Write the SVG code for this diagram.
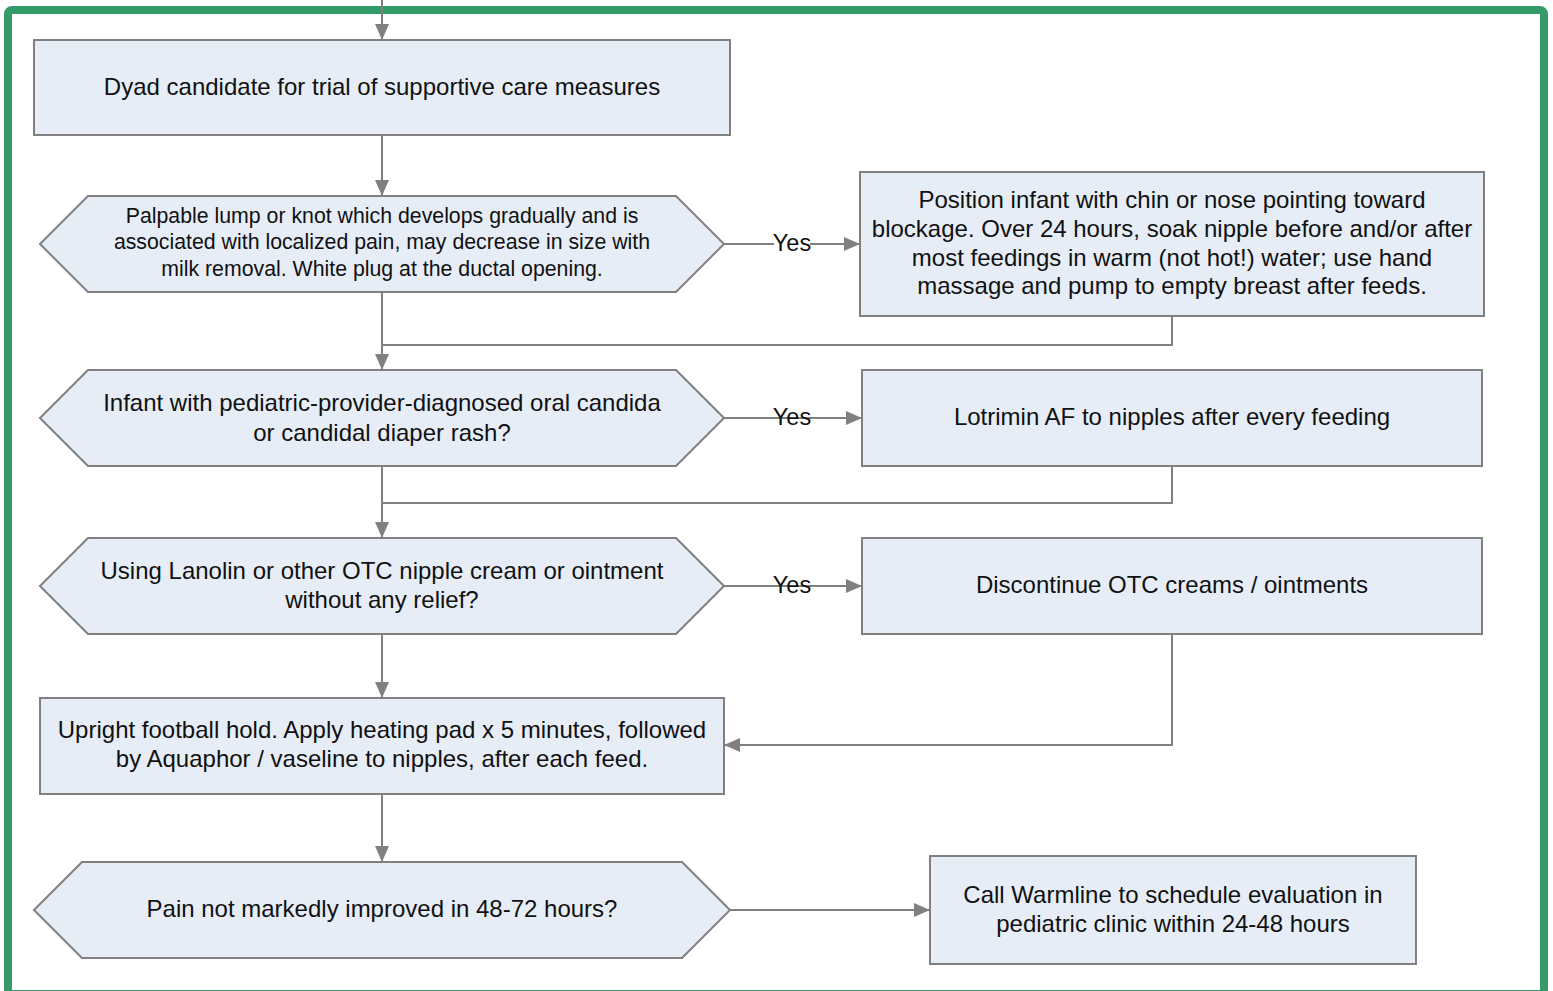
<svg xmlns="http://www.w3.org/2000/svg" width="1553" height="991" viewBox="0 0 1553 991">
  <style>
    .box { fill: #e6edf7; stroke: #808080; stroke-width: 2; }
    .txt { font-family: "Liberation Sans", Arial, sans-serif; font-size: 24px; fill: #111; text-anchor: middle; }
    .sm { font-size: 21.3px; }
    .lbl { font-family: "Liberation Sans", Arial, sans-serif; font-size: 23.5px; fill: #111; text-anchor: middle; }
    .wire { fill: none; stroke: #808080; stroke-width: 2; }
  </style>
  <defs>
    <marker id="arrow" viewBox="0 0 16 14" refX="16" refY="7" markerWidth="16" markerHeight="14" markerUnits="userSpaceOnUse" orient="auto">
      <path d="M0,0 L16,7 L0,14 Z" fill="#808080"/>
    </marker>
  </defs>
  <rect width="1553" height="991" fill="#ffffff"/>

  <!-- outer frame -->
  <rect x="8" y="10" width="1536" height="984" rx="4" fill="none" stroke="#349a68" stroke-width="8"/>

  <!-- connectors -->
  <g id="connectors">
    <path class="wire" d="M382,0 V40" marker-end="url(#arrow)"/>
    <path class="wire" d="M382,136 V196" marker-end="url(#arrow)"/>
    <path class="wire" d="M724,244 H860" marker-end="url(#arrow)"/>
    <path class="wire" d="M382,292 V370" marker-end="url(#arrow)"/>
    <path class="wire" d="M1172,316 V345 H382"/>
    <path class="wire" d="M724,418 H862" marker-end="url(#arrow)"/>
    <path class="wire" d="M382,466 V538" marker-end="url(#arrow)"/>
    <path class="wire" d="M1172,466 V503 H382"/>
    <path class="wire" d="M724,586 H862" marker-end="url(#arrow)"/>
    <path class="wire" d="M382,634 V698" marker-end="url(#arrow)"/>
    <path class="wire" d="M1172,634 V745 H724" marker-end="url(#arrow)"/>
    <path class="wire" d="M382,794 V862" marker-end="url(#arrow)"/>
    <path class="wire" d="M730,910 H930" marker-end="url(#arrow)"/>
    <rect x="774" y="232" width="36" height="22" fill="#ffffff"/>
    <text class="lbl" x="792" y="251">Yes</text>
    <text class="lbl" x="792" y="425">Yes</text>
    <text class="lbl" x="792" y="593">Yes</text>
  </g>

  <g id="start">
    <rect class="box" x="34" y="40" width="696" height="95"/>
    <text class="txt" x="382" y="95">Dyad candidate for trial of supportive care measures</text>
  </g>

  <g id="q-lump">
    <polygon class="box" points="40,244 88,196 676,196 724,244 676,292 88,292"/>
    <text class="txt sm" x="382" y="223">Palpable lump or knot which develops gradually and is</text>
    <text class="txt sm" x="382" y="249">associated with localized pain, may decrease in size with</text>
    <text class="txt sm" x="382" y="276">milk removal. White plug at the ductal opening.</text>
  </g>

  <g id="a-position">
    <rect class="box" x="860" y="172" width="624" height="144"/>
    <text class="txt" x="1172" y="208">Position infant with chin or nose pointing toward</text>
    <text class="txt" x="1172" y="237">blockage. Over 24 hours, soak nipple before and/or after</text>
    <text class="txt" x="1172" y="266">most feedings in warm (not hot!) water; use hand</text>
    <text class="txt" x="1172" y="294">massage and pump to empty breast after feeds.</text>
  </g>

  <g id="q-candida">
    <polygon class="box" points="40,418 88,370 676,370 724,418 676,466 88,466"/>
    <text class="txt" x="382" y="411">Infant with pediatric-provider-diagnosed oral candida</text>
    <text class="txt" x="382" y="441">or candidal diaper rash?</text>
  </g>

  <g id="a-lotrimin">
    <rect class="box" x="862" y="370" width="620" height="96"/>
    <text class="txt" x="1172" y="425">Lotrimin AF to nipples after every feeding</text>
  </g>

  <g id="q-lanolin">
    <polygon class="box" points="40,586 88,538 676,538 724,586 676,634 88,634"/>
    <text class="txt" x="382" y="579">Using Lanolin or other OTC nipple cream or ointment</text>
    <text class="txt" x="382" y="608">without any relief?</text>
  </g>

  <g id="a-discontinue">
    <rect class="box" x="862" y="538" width="620" height="96"/>
    <text class="txt" x="1172" y="593">Discontinue OTC creams / ointments</text>
  </g>

  <g id="football-hold">
    <rect class="box" x="40" y="698" width="684" height="96"/>
    <text class="txt" x="382" y="738">Upright football hold. Apply heating pad x 5 minutes, followed</text>
    <text class="txt" x="382" y="767">by Aquaphor / vaseline to nipples, after each feed.</text>
  </g>

  <g id="q-pain">
    <polygon class="box" points="34,910 82,862 682,862 730,910 682,958 82,958"/>
    <text class="txt" x="382" y="917">Pain not markedly improved in 48-72 hours?</text>
  </g>

  <g id="a-warmline">
    <rect class="box" x="930" y="856" width="486" height="108"/>
    <text class="txt" x="1173" y="903">Call Warmline to schedule evaluation in</text>
    <text class="txt" x="1173" y="932">pediatric clinic within 24-48 hours</text>
  </g>
</svg>
